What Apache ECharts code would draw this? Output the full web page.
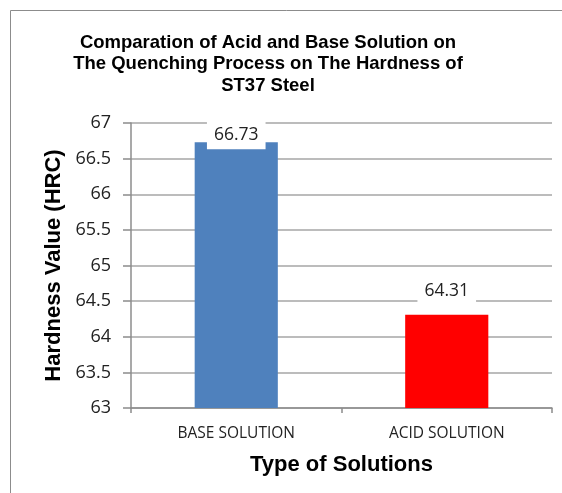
<!DOCTYPE html>
<html>
<head>
<meta charset="utf-8">
<script src="https://cdn.jsdelivr.net/npm/echarts@6/dist/echarts.min.js"></script>
<style>html,body{margin:0;padding:0;background:#fff;}#c{width:562px;height:493px;}</style>
</head>
<body>
<div id="c"></div>
<script>
const titleText = "Comparation of Acid and Base Solution on\nThe Quenching Process on The Hardness of\nST37 Steel";
const categories = ["BASE SOLUTION", "ACID SOLUTION"];
const hardness = [66.73, 64.31];
const barColors = ["#4F81BD", "#FF0000"];
const labelDistances = [-7, 10];
const yMin = 63, yMax = 67, yStep = 0.5;

const chart = echarts.init(document.getElementById('c'), null, {renderer: 'canvas'});
chart.setOption({
  animation: false,
  backgroundColor: '#fff',
  graphic: [{
    type: 'rect', silent: true,
    shape: {x: 10.5, y: 10.5, width: 800, height: 800},
    style: {fill: 'none', stroke: '#8c8c8c', lineWidth: 1}
  }, {
    type: 'text', silent: true,
    x: 268, y: 32,
    style: {
      text: titleText,
      align: 'center', verticalAlign: 'top',
      fontFamily: 'Liberation Sans', fontWeight: 'bold', fontSize: 18.5, lineHeight: 21.5,
      fill: '#000'
    }
  }],
  grid: {left: 131, right: 10, top: 123, bottom: 85},
  xAxis: {
    type: 'category',
    data: categories,
    name: 'Type of Solutions',
    nameLocation: 'middle',
    nameGap: 46,
    nameTextStyle: {fontFamily: 'Liberation Sans', fontWeight: 'bold', fontSize: 22, color: '#000'},
    axisLine: {lineStyle: {color: '#8c8c8c', width: 1.5}},
    axisTick: {show: true, length: 5, lineStyle: {color: '#8c8c8c', width: 1.5}},
    axisLabel: {fontFamily: 'Open Sans', fontSize: 15.5, color: '#222', margin: 18}
  },
  yAxis: {
    type: 'value',
    min: yMin, max: yMax, interval: yStep,
    name: 'Hardness Value (HRC)',
    nameLocation: 'middle',
    nameGap: 66,
    nameTextStyle: {fontFamily: 'Liberation Sans', fontWeight: 'bold', fontSize: 22, color: '#000'},
    axisLine: {show: true, lineStyle: {color: '#8c8c8c', width: 1.5}},
    axisTick: {show: true, length: 8, lineStyle: {color: '#8c8c8c', width: 1.5}},
    axisLabel: {fontFamily: 'Open Sans', fontSize: 18, color: '#222', margin: 20},
    splitLine: {show: true, lineStyle: {color: '#a6a6a6', width: 1.5}}
  },
  series: [{
    type: 'bar',
    barWidth: '39.5%',
    data: hardness.map((v, i) => ({
      value: v,
      itemStyle: {color: barColors[i]},
      label: {distance: labelDistances[i]}
    })),
    label: {
      show: true,
      position: 'top',
      fontFamily: 'Open Sans',
      fontSize: 17.5,
      color: '#222',
      backgroundColor: '#fff',
      padding: [5, 7, 5, 7]
    }
  }]
});
</script>
</body>
</html>
